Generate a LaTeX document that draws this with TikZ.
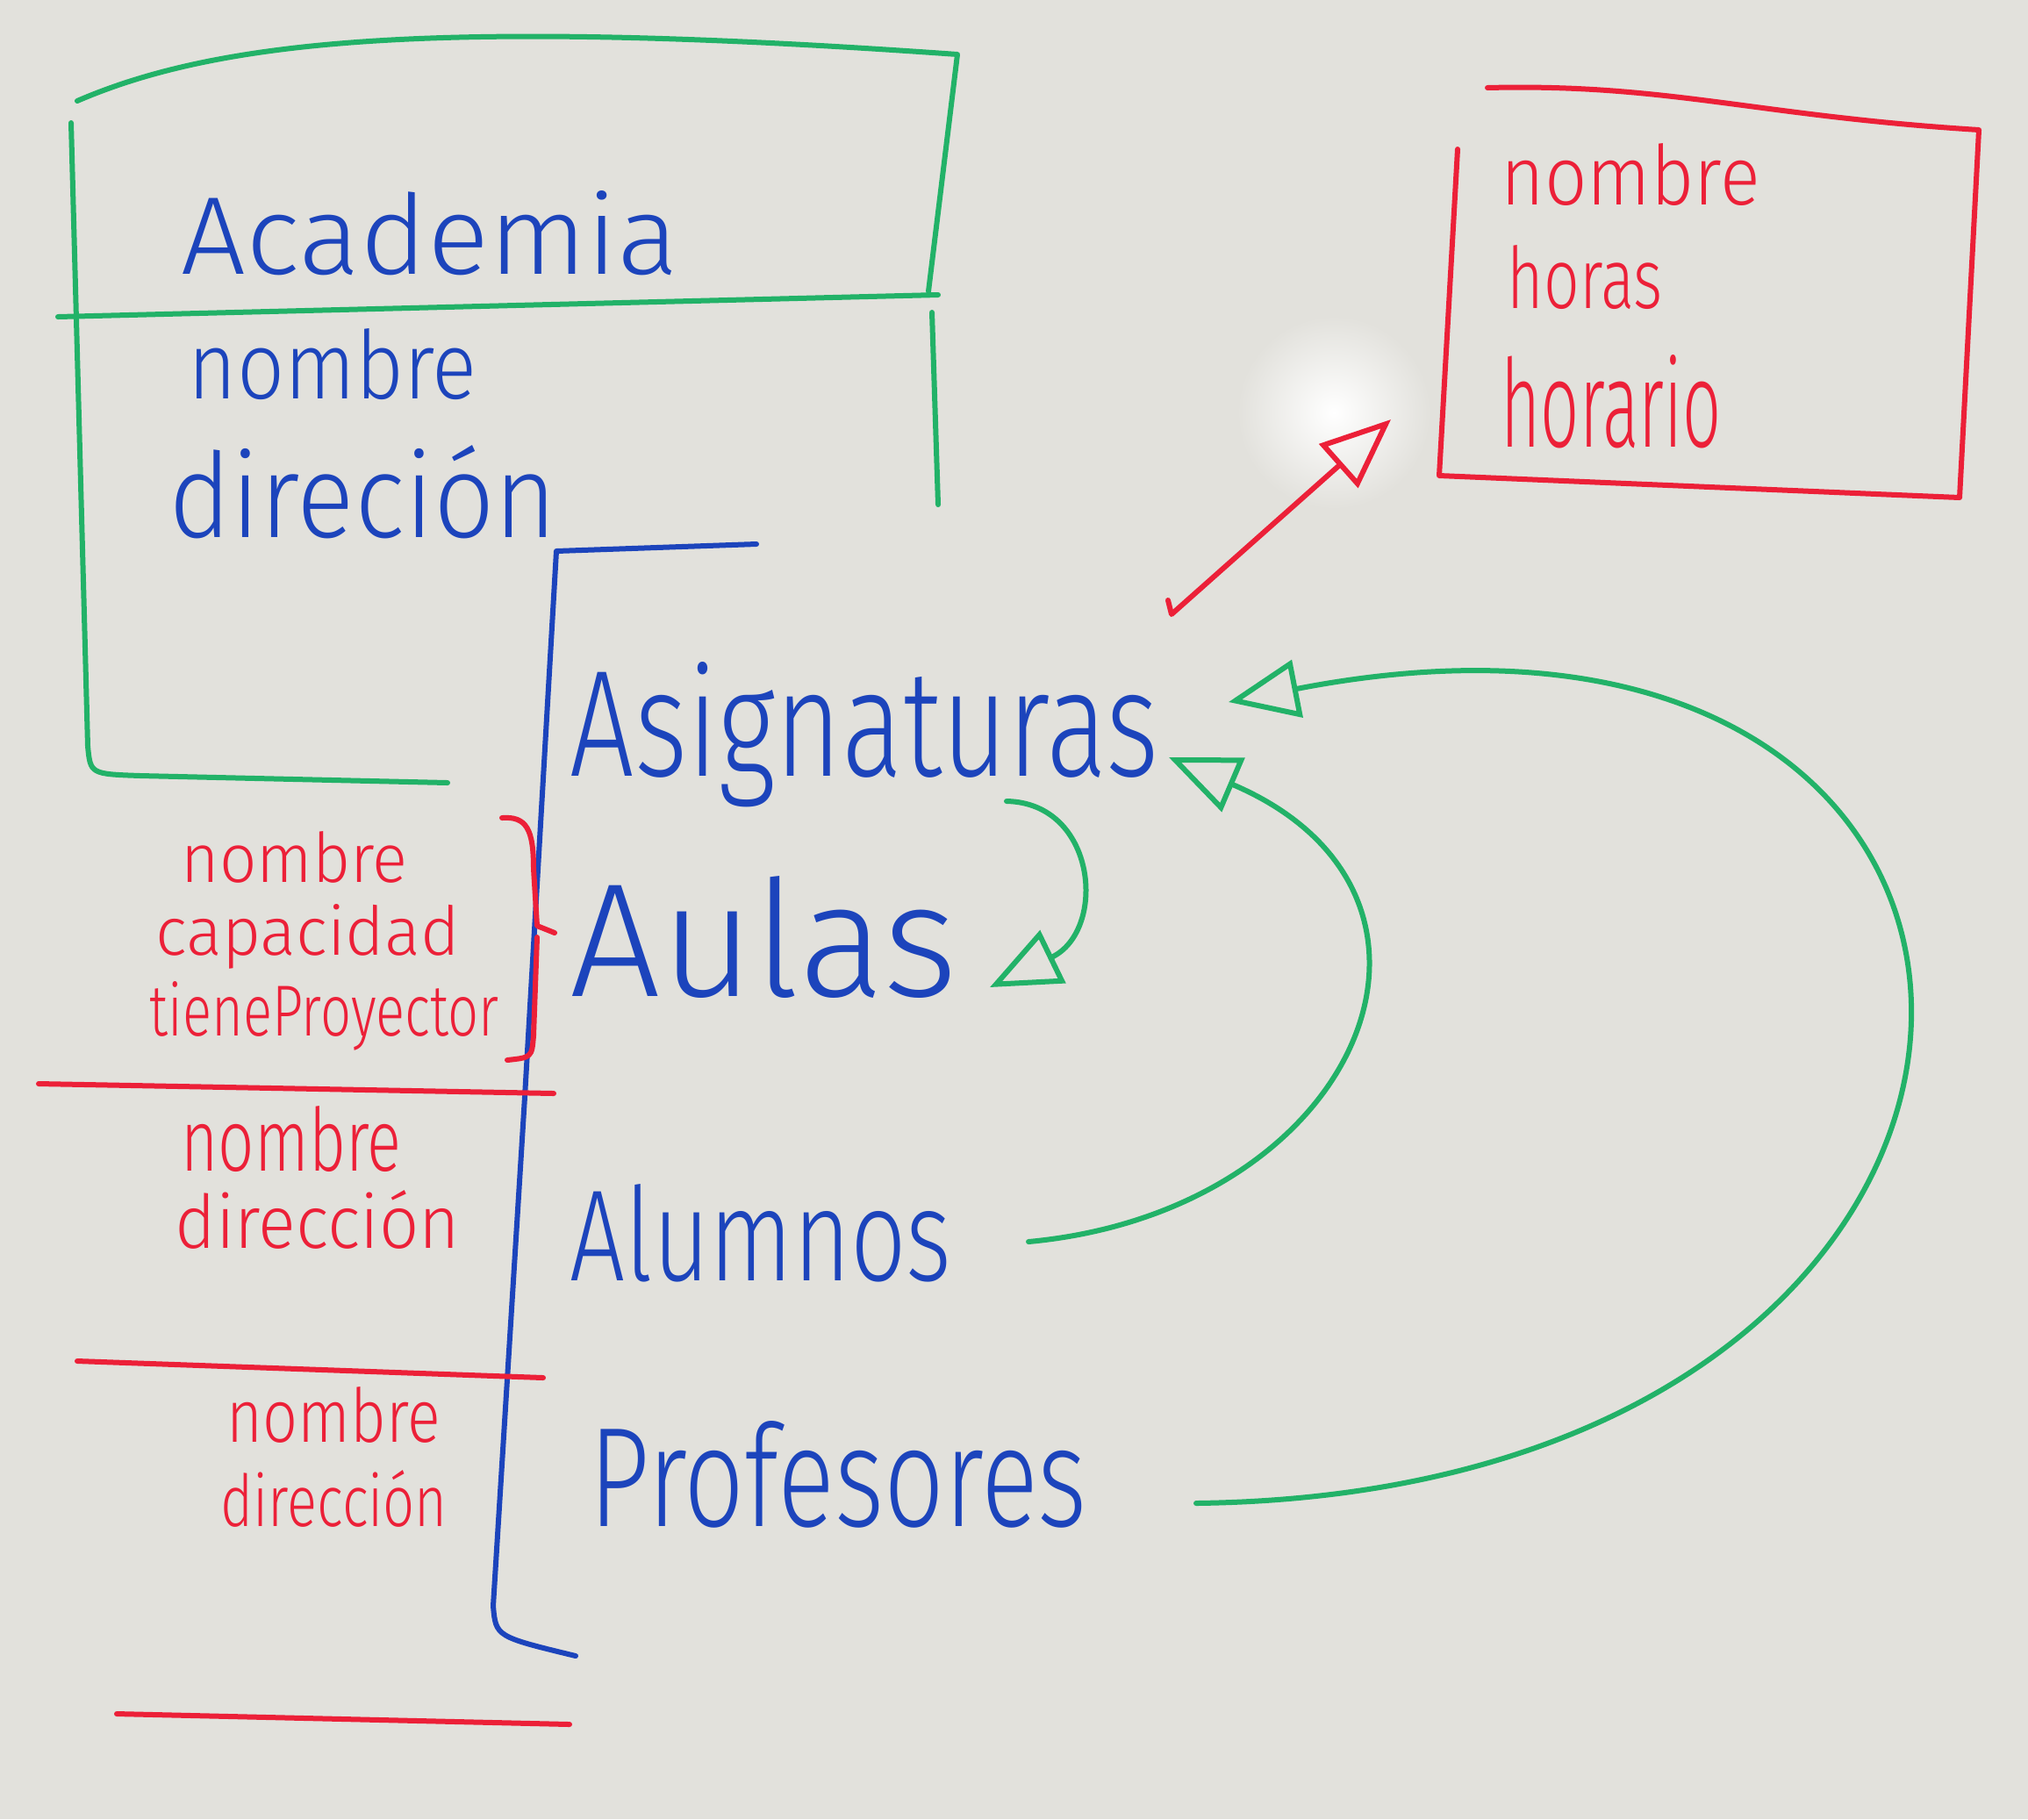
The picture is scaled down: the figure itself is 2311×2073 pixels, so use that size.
\documentclass[tikz,border=0pt]{standalone}
\usepackage{fontspec}
\setmainfont{Fira Sans Light}
\usepackage{graphicx}
\usetikzlibrary{arrows.meta,calc}
\definecolor{board}{RGB}{226,225,220}
\definecolor{mkgreen}{RGB}{34,178,104}
\definecolor{mkblue}{RGB}{28,68,188}
\definecolor{mkred}{RGB}{236,32,56}
\newlength{\px}\setlength{\px}{0.1mm}
% handwritten word, stretched to a width and a height in px
\newcommand{\hand}[3]{\resizebox{#1\px}{#2\px}{#3}}
\tikzset{%
  marker/.style={line width=0.6mm,line cap=round,line join=round},
  green line/.style={marker,draw=mkgreen},
  blue line/.style={marker,draw=mkblue},
  red line/.style={marker,draw=mkred},
  word/.style={inner sep=0pt,anchor=base west},
  blue word/.style={word,text=mkblue},
  red word/.style={word,text=mkred},
  open head/.style={-{Triangle[open,length=8mm,width=6.6mm]}},
}
\begin{document}
\begin{tikzpicture}[x=0.1mm,y=-0.1mm]
  \useasboundingbox (0,0) rectangle (2311,2073);
  \fill[board] (0,0) rectangle (2311,2073);
  \shade[inner color=white,outer color=board] (1520,470) circle[radius=110];
  % Academia box
  \draw[green line] (88,115) .. controls (250,45) and (500,20) .. (1091,62) -- (1058,332);
  \draw[green line] (66,361) -- (1069,336);
  \draw[green line] (1062,356) -- (1069,575);
  \draw[green line] (81,140) -- (100,850) .. controls (103,882) .. (160,884) -- (510,892);
  \node[blue word] (academia) at (206,312) {\hand{567}{95}{Academia}};
  \node[blue word] (acNombre) at (214,454) {\hand{329}{80}{nombre}};
  \node[blue word] (acDir) at (192,612) {\hand{442}{105}{direción}};
  % classes
  \draw[blue line] (862,620) -- (634,628) -- (598,1250) -- (562,1830) .. controls (565,1865) .. (656,1887);
  \node[blue word] (asig) at (649,884) {\hand{671}{130}{Asignaturas}};
  \node[blue word] (aulas) at (649,1135) {\hand{442}{137}{Aulas}};
  \node[blue word] (alumnos) at (649,1459) {\hand{435}{110}{Alumnos}};
  \node[blue word] (prof) at (671,1739) {\hand{567}{120}{Profesores}};
  % attributes on the left
  \node[red word] (auNombre) at (206,1005) {\hand{258}{58}{nombre}};
  \node[red word] (auCap) at (177,1088) {\hand{346}{58}{capacidad}};
  \node[red word] (auProy) at (170,1180) {\hand{398}{62}{tieneProyector}};
  \draw[red line] (572,932) .. controls (600,930) and (608,945) .. (608,990) -- (612,1055) -- (632,1063);
  \draw[red line] (612,1068) -- (608,1180) .. controls (606,1205) .. (578,1208);
  \draw[red line] (44,1235) -- (631,1246);
  \node[red word] (alNombre) at (206,1334) {\hand{251}{74}{nombre}};
  \node[red word] (alDir) at (199,1422) {\hand{324}{66}{dirección}};
  \draw[red line] (88,1551) -- (619,1570);
  \node[red word] (prNombre) at (258,1643) {\hand{243}{63}{nombre}};
  \node[red word] (prDir) at (251,1739) {\hand{258}{64}{dirección}};
  \draw[red line] (133,1953) -- (649,1965);
  % Asignaturas attributes
  \draw[red line] (1695,100) .. controls (1900,95) and (2000,132) .. (2255,148) -- (2233,567) -- (1640,542) -- (1661,170);
  \node[red word] (asNombre) at (1710,233) {\hand{295}{70}{nombre}};
  \node[red word] (asHoras) at (1717,351) {\hand{177}{72}{horas}};
  \node[red word] (asHorario) at (1710,509) {\hand{251}{105}{horario}};
  % connectors
  \coordinate (rA) at (1335,700);
  \coordinate (rB) at (1585,478);
  \draw[red line,open head] (1331,684) -- (rA) -- (rB);
  \coordinate (gA) at (1147,913);
  \coordinate (gB) at (1128,1125);
  \draw[green line,open head] (gA) .. controls (1250,915) and (1262,1060) .. (gB);
  \coordinate (gC) at (1172,1415);
  \coordinate (gD) at (1332,863);
  \draw[green line,open head] (gC) .. controls (1550,1380) and (1700,1020) .. (gD);
  \coordinate (gE) at (1363,1713);
  \coordinate (gF) at (1400,800);
  \draw[green line,open head] (gE) .. controls (2430,1700) and (2430,600) .. (gF);
\end{tikzpicture}
\end{document}
